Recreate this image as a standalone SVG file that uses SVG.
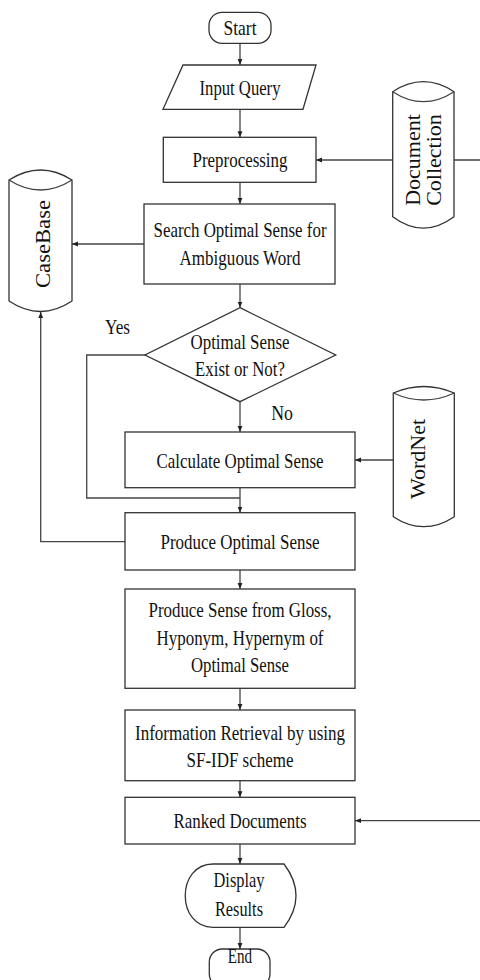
<svg xmlns="http://www.w3.org/2000/svg" width="480" height="980" viewBox="0 0 480 980">
<style>
.s{fill:#fff;stroke:#333;stroke-width:1.3}
.c{fill:none;stroke:#444;stroke-width:1.3}
.t{font-family:"Liberation Serif","Times New Roman",serif;font-size:22px;fill:#111;text-anchor:middle}
.r{font-family:"Liberation Serif","Times New Roman",serif;font-size:22px;fill:#111;text-anchor:middle}
</style>
<defs>
<marker id="a" viewBox="0 0 6 6" refX="6" refY="3" markerWidth="6" markerHeight="6" markerUnits="userSpaceOnUse" orient="auto">
<path d="M0,0.6 L6,3 L0,5.4 Z" fill="#222"/>
</marker>
</defs>
<g id="connectors">
<path class="c" d="M240,43.3 V65" marker-end="url(#a)"/>
<path class="c" d="M240,109.3 V137.3" marker-end="url(#a)"/>
<path class="c" d="M240,182.3 V204" marker-end="url(#a)"/>
<path class="c" d="M240,284 V307.7" marker-end="url(#a)"/>
<path class="c" d="M240,401.7 V432" marker-end="url(#a)"/>
<path class="c" d="M240,487.7 V512.7" marker-end="url(#a)"/>
<path class="c" d="M145,355 H86.7 V498 H240"/>
<path class="c" d="M240,570 V589" marker-end="url(#a)"/>
<path class="c" d="M240,688.3 V710" marker-end="url(#a)"/>
<path class="c" d="M240,780.7 V797.3" marker-end="url(#a)"/>
<path class="c" d="M240,844 V864" marker-end="url(#a)"/>
<path class="c" d="M240,927.3 V949" marker-end="url(#a)"/>
<path class="c" d="M144,244 H72" marker-end="url(#a)"/>
<path class="c" d="M125,541.7 H40.7 V312" marker-end="url(#a)"/>
<path class="c" d="M393,160 H316" marker-end="url(#a)"/>
<path class="c" d="M454,160 H486 V820.7 H355" marker-end="url(#a)"/>
<path class="c" d="M393.3,460 H355" marker-end="url(#a)"/>
</g>
<g id="start">
<rect class="s" x="209" y="12.3" width="62" height="31" rx="13"/>
<text class="t" x="240" y="35" textLength="33" lengthAdjust="spacingAndGlyphs">Start</text>
</g>
<g id="input">
<path class="s" d="M183,65 H316 L303,109.3 H163 Z"/>
<text class="t" x="240" y="95" textLength="81" lengthAdjust="spacingAndGlyphs">Input Query</text>
</g>
<g id="preprocessing">
<rect class="s" x="163.3" y="137.3" width="152.7" height="45"/>
<text class="t" x="240" y="167" textLength="95" lengthAdjust="spacingAndGlyphs">Preprocessing</text>
</g>
<g id="search">
<rect class="s" x="144" y="204" width="191" height="80"/>
<text class="t" x="240" y="237" textLength="173" lengthAdjust="spacingAndGlyphs">Search Optimal Sense for</text>
<text class="t" x="240" y="264.5" textLength="121" lengthAdjust="spacingAndGlyphs">Ambiguous Word</text>
</g>
<g id="decision">
<path class="s" d="M240,307.7 L335.7,355 L240,401.7 L145,355 Z"/>
<text class="t" x="240" y="348.5" textLength="99" lengthAdjust="spacingAndGlyphs">Optimal Sense</text>
<text class="t" x="240" y="375.5" textLength="90" lengthAdjust="spacingAndGlyphs">Exist or Not?</text>
</g>
<g id="label-yes">
<text class="t" x="117.5" y="333.5" textLength="25" lengthAdjust="spacingAndGlyphs">Yes</text>
</g>
<g id="label-no">
<text class="t" x="282" y="420" textLength="21.7" lengthAdjust="spacingAndGlyphs">No</text>
</g>
<g id="calculate">
<rect class="s" x="125" y="432" width="230" height="55.7"/>
<text class="t" x="240" y="467.5" textLength="167" lengthAdjust="spacingAndGlyphs">Calculate Optimal Sense</text>
</g>
<g id="produce">
<rect class="s" x="125" y="512.7" width="230" height="57.3"/>
<text class="t" x="240" y="548.5" textLength="159" lengthAdjust="spacingAndGlyphs">Produce Optimal Sense</text>
</g>
<g id="gloss">
<rect class="s" x="125" y="589" width="230" height="99.3"/>
<text class="t" x="240" y="617" textLength="183" lengthAdjust="spacingAndGlyphs">Produce Sense from Gloss,</text>
<text class="t" x="240" y="644.5" textLength="167" lengthAdjust="spacingAndGlyphs">Hyponym, Hypernym of</text>
<text class="t" x="240" y="672" textLength="98" lengthAdjust="spacingAndGlyphs">Optimal Sense</text>
</g>
<g id="retrieval">
<rect class="s" x="125" y="710" width="230" height="70.7"/>
<text class="t" x="240" y="739.5" textLength="210" lengthAdjust="spacingAndGlyphs">Information Retrieval by using</text>
<text class="t" x="240" y="767" textLength="107" lengthAdjust="spacingAndGlyphs">SF-IDF scheme</text>
</g>
<g id="ranked">
<rect class="s" x="125" y="797.3" width="230" height="46.7"/>
<text class="t" x="240" y="828" textLength="133" lengthAdjust="spacingAndGlyphs">Ranked Documents</text>
</g>
<g id="display">
<path class="s" d="M213,864 H284 Q308,895.7 284,927.3 H213 C176,927.3 176,864 213,864 Z"/>
<text class="t" x="239" y="887" textLength="51" lengthAdjust="spacingAndGlyphs">Display</text>
<text class="t" x="239" y="915.5" textLength="48" lengthAdjust="spacingAndGlyphs">Results</text>
</g>
<g id="end">
<rect class="s" x="209.3" y="949" width="60.7" height="38" rx="13"/>
<text class="t" x="240" y="963" textLength="24.3" lengthAdjust="spacingAndGlyphs">End</text>
</g>
<g id="casebase">
<path class="s" d="M9,180 Q40.5,160 72,180 V301 Q40.5,322 9,301 Z"/>
<path class="c" d="M9,180 Q40.5,200 72,180"/>
<text class="r" transform="translate(50,244) rotate(-90)" x="0" y="0" textLength="88" lengthAdjust="spacingAndGlyphs">CaseBase</text>
</g>
<g id="document-collection">
<path class="s" d="M392.7,91.7 Q423.4,71.7 454,91.7 V216.7 Q423.4,239.5 392.7,216.7 Z"/>
<path class="c" d="M392.7,91.7 Q423.4,111.7 454,91.7"/>
<text class="r" transform="translate(420,160) rotate(-90)" x="0" y="0">Document</text>
<text class="r" transform="translate(440.7,160) rotate(-90)" x="0" y="0">Collection</text>
</g>
<g id="wordnet">
<path class="s" d="M393.3,393 Q423.8,380 454.3,393 V516.7 Q423.8,536.7 393.3,516.7 Z"/>
<path class="c" d="M393.3,393 Q423.8,407 454.3,393"/>
<text class="r" transform="translate(425,459) rotate(-90)" x="0" y="0">WordNet</text>
</g>
</svg>
